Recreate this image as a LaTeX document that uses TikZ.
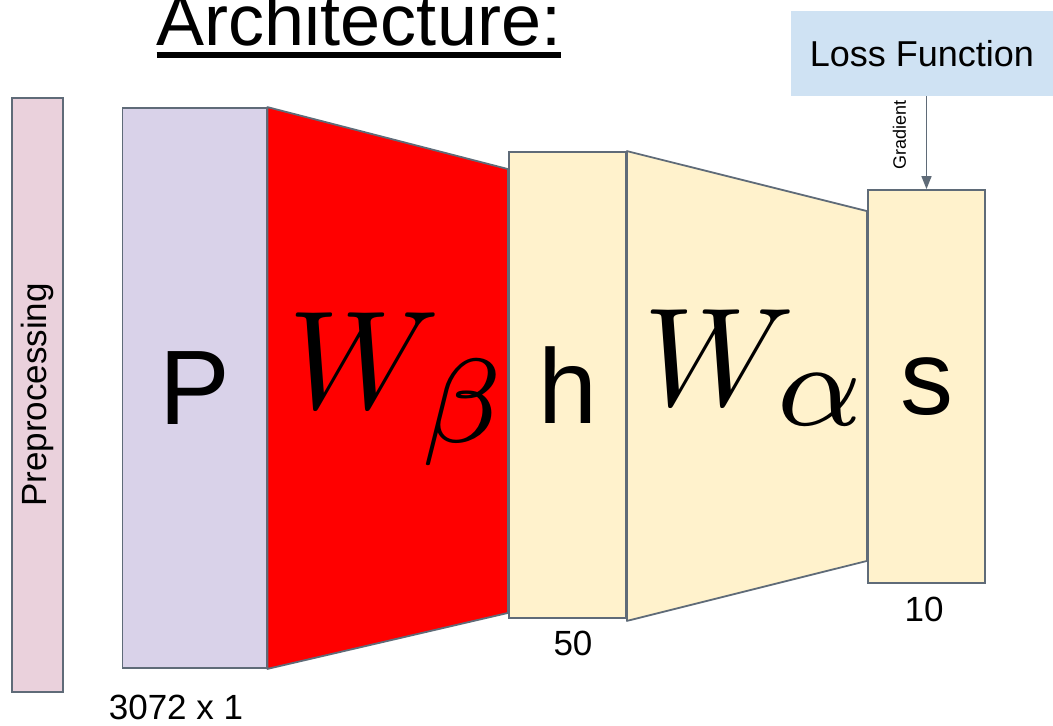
\documentclass[tikz,border=0pt]{standalone}
\usepackage{graphicx}
\usepackage{fontspec}
\setmainfont{Liberation Sans}
\usepackage{xcolor}
\usetikzlibrary{arrows.meta,positioning,calc}

\definecolor{edgegray}{HTML}{5F6B78}
\definecolor{prepink}{HTML}{EAD1DC}
\definecolor{plilac}{HTML}{D9D2E9}
\definecolor{hcream}{HTML}{FFF2CC}
\definecolor{lossblue}{HTML}{CFE2F3}

\newcommand{\bigsub}[1]{\scalebox{1.22}{$\scriptstyle #1$}}

\begin{document}
\begin{tikzpicture}[
    x=1pt, y=-1pt,
    layer/.style={rectangle, draw=edgegray, line width=1.8pt, inner sep=0pt, font=\fontsize{106}{110}\selectfont},
    weight/.style={draw=edgegray, line width=1.8pt, line join=round},
    mathlbl/.style={anchor=base west, inner sep=0pt},
    dimlbl/.style={anchor=base, inner sep=0pt, font=\fontsize{35}{40}\selectfont},
    grad/.style={-{Triangle[length=13pt,width=10pt]}, line width=1.5pt, draw=edgegray}
]
    \useasboundingbox (0,0) rectangle (1053,726);

    % layers
    \node [layer, fill=prepink, rotate=90, minimum width=594, minimum height=51, font=\fontsize{35}{40}\selectfont] (prep) at (37.5,395) {Preprocessing};
    \node [layer, fill=plilac, minimum width=144, minimum height=560] (P) at (194.5,388) {P};
    \node [layer, fill=hcream, minimum width=117, minimum height=466] (h) at (567.5,385) {h};
    \node [layer, fill=hcream, minimum width=117, minimum height=393] (s) at (926.5,386.5) {s};

    % weights between the layers
    \draw [weight, fill=red] (P.north east) -- ($(h.north west)+(0,18)$) -- ($(h.south west)+(0,-6)$) -- (P.south east) -- cycle;
    \draw [weight, fill=hcream] (h.north east) -- ($(s.north west)+(0,22)$) -- ($(s.south west)+(0,-23)$) -- ($(h.south east)+(0,2)$) -- cycle;
    \node [mathlbl] (wbeta) at (288,408) {\scalebox{14}{$W_{\bigsub{\beta}}$}};
    \node [mathlbl] (walpha) at (643,405) {\scalebox{14}{$W_{\bigsub{\alpha}}$}};

    % loss and gradient
    \node [fill=lossblue, minimum width=262, minimum height=85, inner sep=0pt, font=\fontsize{36}{40}\selectfont] (loss) at (922,53.5) {Loss Function};
    \draw [grad] (s.north |- loss.south) -- (s.north);
    \node [rotate=90, inner sep=0pt, font=\fontsize{18}{20}\selectfont] (gradlbl) at (899.5,135) {Gradient};

    % sizes
    \node [dimlbl] (dimP) at (176,719) {3072 x 1};
    \node [dimlbl] (dimh) at (573,655) {50};
    \node [dimlbl] (dims) at (924,621) {10};

    % title
    \node [anchor=base, inner sep=0pt, font=\fontsize{72}{80}\selectfont] (title) at (359,45) {Architecture:};
    \draw [line width=6pt] ($(title.base west)+(0,10)$) -- ($(title.base east)+(0,10)$);
\end{tikzpicture}
\end{document}
